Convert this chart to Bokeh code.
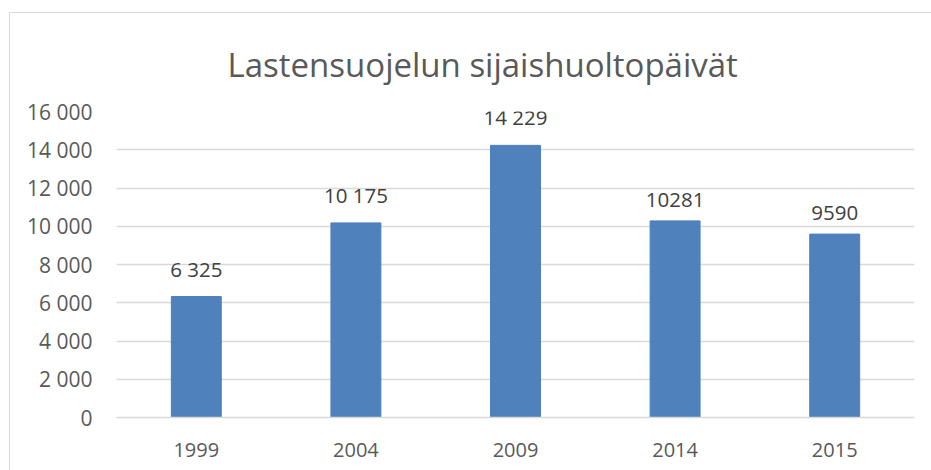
from bokeh.plotting import figure
from bokeh.models import ColumnDataSource, LabelSet, FixedTicker, Title
from bokeh.core.properties import value
from bokeh.embed import file_html
from bokeh.resources import INLINE

years = ["1999", "2004", "2009", "2014", "2015"]
values = [6325, 10175, 14229, 10281, 9590]
value_labels = ["6 325", "10 175", "14 229", "10281", "9590"]
y_ticks = [0, 2000, 4000, 6000, 8000, 10000, 12000, 14000, 16000]
y_tick_labels = ["0", "2 000", "4 000", "6 000", "8 000", "10 000", "12 000", "14 000", "16 000"]
title_text = "Lastensuojelun sijaishuoltopäivät"

FONT = "Open Sans"
src = ColumnDataSource(dict(x=years, top=values, lab=value_labels))

p = figure(x_range=years, y_range=(0, 16000), width=922, height=458,
           output_backend="svg", toolbar_location=None,
           min_border_left=106, min_border_right=18, min_border_top=98, min_border_bottom=54)
p.styles = {"border-left": "1px solid #d9d9d9", "border-top": "1px solid #d9d9d9",
            "margin-top": "12px", "margin-left": "9px"}

p.vbar(x="x", top="top", width=0.313, source=src, color="#4F81BD")
p.add_layout(LabelSet(x="x", y="top", text="lab", source=src, y_offset=14,
                      text_align="center", text_baseline="bottom",
                      text_font=value(FONT), text_font_size="20.5px", text_color="#404040"))

p.title = Title(text=title_text, align="left", offset=111,
                text_font=FONT, text_font_size="33px", text_font_style="normal",
                text_color="#595959", standoff=49)

p.outline_line_color = None
p.xgrid.grid_line_color = None
p.ygrid.grid_line_color = "#d9d9d9"
p.ygrid.grid_line_width = 1.5
p.yaxis.ticker = FixedTicker(ticks=y_ticks)
p.yaxis.major_label_overrides = {t: l for t, l in zip(y_ticks, y_tick_labels)}
p.yaxis.axis_line_color = None
p.yaxis.major_tick_line_color = None
p.yaxis.minor_tick_line_color = None
p.yaxis.major_label_standoff = 18
p.xaxis.axis_line_color = "#d9d9d9"
p.xaxis.axis_line_width = 1.5
p.xaxis.major_tick_line_color = None
p.xaxis.major_label_standoff = 19
for ax in (p.xaxis, p.yaxis):
    ax.major_label_text_font = FONT
    ax.major_label_text_color = "#595959"
p.yaxis.major_label_text_font_size = "21px"
p.xaxis.major_label_text_font_size = "20px"
p.x_range.range_padding = 0
p.background_fill_color = "white"
p.border_fill_color = "white"

open("out.html", "w").write(file_html(p, INLINE))
